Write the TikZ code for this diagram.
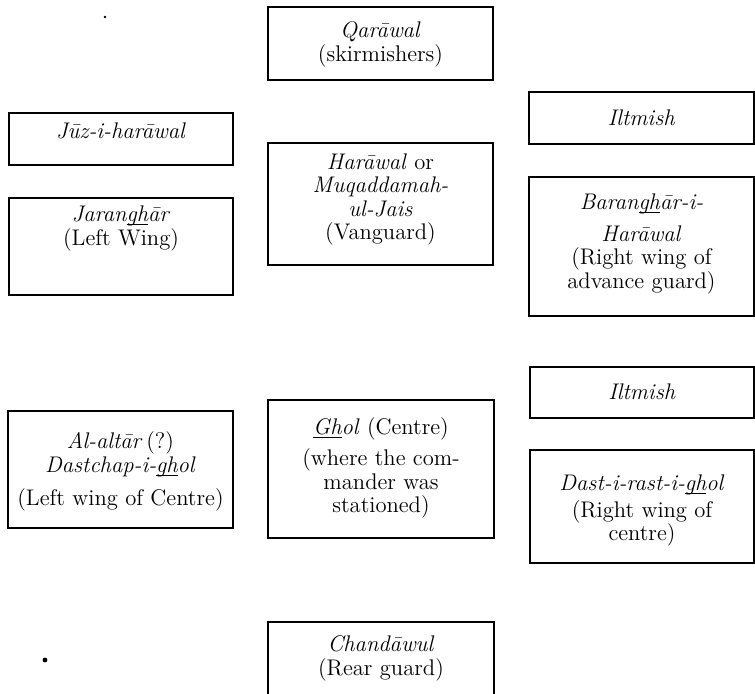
\documentclass[tikz,border=0pt]{standalone}
\usepackage{tikz}
\tikzstyle{troop}=[draw, rectangle, inner sep=0pt, line width=0.7pt]
\tikzstyle{troopname}=[align=center, inner sep=0pt, font=\fontsize{11.3}{11.7}\selectfont]
\newcommand{\troop}{\node[troop]}
\newcommand{\troopname}{\node[troopname]}
\newcommand{\ghline}[1]{\setbox0\hbox{#1}\rlap{\rule[-1.7pt]{\wd0}{0.45pt}}\box0}

\begin{document}
\begin{tikzpicture}[x=0.5pt,y=-0.5pt]
    \useasboundingbox (0,0) rectangle (755,693);
    \clip (0,0) rectangle (755,693);
    \troop[minimum width=112.5pt, minimum height=36.5pt] (qar) at (380.5,43.5) {};
    \troop[minimum width=112pt, minimum height=26pt] (juz) at (121,139) {};
    \troop[minimum width=112.5pt, minimum height=26pt] (ilt1) at (641.5,118) {};
    \troop[minimum width=112.5pt, minimum height=61pt] (har) at (380.5,204) {};
    \troop[minimum width=112pt, minimum height=48.5pt] (jar) at (121,246.5) {};
    \troop[minimum width=112.5pt, minimum height=69.5pt] (bar) at (641.5,246.5) {};
    \troop[minimum width=112pt, minimum height=25.5pt] (ilt2) at (642,392.5) {};
    \troop[minimum width=112.5pt, minimum height=58.5pt] (alt) at (120.5,469.5) {};
    \troop[minimum width=113pt, minimum height=69pt] (gho) at (381,469) {};
    \troop[minimum width=112pt, minimum height=56.5pt] (dast) at (642,506.5) {};
    \troop[minimum width=113pt, minimum height=60pt] (cha) at (381,682) {};
    \troopname (qar-t) at (380.5,44.5) {\textit{Qarāwal}\\(skirmishers)};
    \troopname (juz-t) at (121,131) {\textit{Jūz-i-harāwal}};
    \troopname (ilt1-t) at (641.5,118) {\textit{Iltmish}};
    \troopname (har-t) at (380.5,199.5) {\textit{Harāwal} or\\\textit{Muqaddamah-}\\\textit{ul-Jais}\\(Vanguard)};
    \troopname (jar-t) at (121,228.5) {\textit{Jaran\ghline{gh}ār}\\(Left Wing)};
    \troopname (bar-t) at (641.5,244) {\textit{Baran\ghline{gh}ār-i-}\\[4pt]\textit{Harāwal}\\(Right wing of\\advance guard)};
    \troopname (ilt2-t) at (642,392) {\textit{Iltmish}};
    \troopname (alt-t) at (120.5,471.5) {\textit{Al-altār}\,(?)\\\textit{Dastchap-i-\ghline{gh}ol}\\[5pt](Left wing of Centre)};
    \troopname (gho-t) at (381,468) {\textit{\ghline{Gh}ol} (Centre)\\[4pt](where the com-\\mander was\\stationed)};
    \troopname (dast-t) at (642,510.5) {\textit{Dast-i-rast-i-\ghline{gh}ol}\\[2pt](Right wing of\\centre)};
    \troopname (cha-t) at (381,658.5) {\textit{Chandāwul}\\(Rear guard)};
    \fill (105,17) circle (0.7pt);
    \fill (45,660) circle (1.2pt);
\end{tikzpicture}
\end{document}
